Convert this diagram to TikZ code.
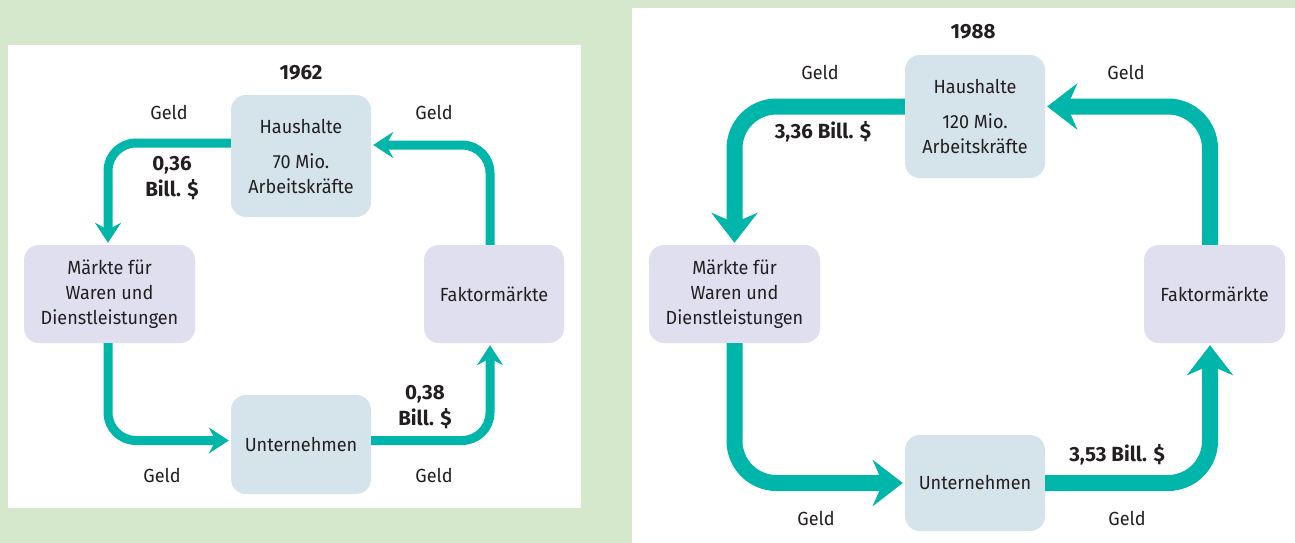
\documentclass[tikz,border=0pt]{standalone}
\usepackage{fontspec}
\setmainfont{Fira Sans}[FakeStretch=0.95]
\newfontfamily\boldfam{Fira Sans}[FakeStretch=1.0]
\usetikzlibrary{arrows.meta,calc}
\definecolor{bggreen}{HTML}{D5E8CB}
\definecolor{boxblue}{HTML}{D5E3EB}
\definecolor{boxlav}{HTML}{DFDFF0}
\definecolor{flowteal}{HTML}{00B5A9}
\definecolor{txt}{HTML}{231F20}
\tikzset{
  base/.style={text=txt, font=\fontsize{19}{25}\selectfont, inner sep=0pt, align=center},
  lbl/.style={base},
  boldlbl/.style={base, font=\boldfam\fontsize{20.5}{26.5}\selectfont\bfseries},
  hbox/.style={base, fill=boxblue, rounded corners=15pt},
  mbox/.style={base, fill=boxlav, rounded corners=15pt},
  flowL/.style={draw=flowteal, line width=9pt, rounded corners=28pt,
    -{Stealth[length=20pt,width=26pt,inset=7pt]}, shorten >=2pt},
  flowR/.style={draw=flowteal, line width=16pt, rounded corners=42pt,
    -{Stealth[length=30pt,width=46pt,inset=10pt]}, shorten >=2pt},
}
\begin{document}
\begin{tikzpicture}[x=1pt,y=-1pt]
\useasboundingbox (0,0) rectangle (1295,543);
\fill[bggreen] (0,0) rectangle (1295,543);
\fill[white] (8,45) rectangle (581,508);
\fill[white] (632,8) rectangle (1295,543);

% ---------- 1962 ----------
\node[boldlbl] (y1) at (301,73) {1962};
\node[hbox, minimum width=140pt, minimum height=122pt] (h1) at (301,156)
  {Haushalte\\[10pt]70 Mio.\\Arbeitskräfte};
\node[mbox, minimum width=171pt, minimum height=98pt] (m1) at (109.5,294)
  {Märkte für\\Waren und\\Dienstleistungen};
\node[mbox, minimum width=140pt, minimum height=98pt] (f1) at (494,294)
  {Faktormärkte};
\node[hbox, minimum width=140pt, minimum height=99pt] (u1) at (301,444.5)
  {Unternehmen};

\draw[flowL] ([yshift=13pt]h1.west) -| ([xshift=-1.5pt]m1.north);
\draw[flowL] ([xshift=-1.5pt]m1.south) |- ([yshift=4pt]u1.west);
\draw[flowL] ([yshift=4pt]u1.east) -| ([xshift=-4pt]f1.south);
\draw[flowL] ([xshift=-4pt]f1.north) |- ([yshift=11pt]h1.east);

\node[lbl] (g1a) at (169,112) {Geld};
\node[lbl] (g1b) at (434,112) {Geld};
\node[lbl] (g1c) at (162,475) {Geld};
\node[lbl] (g1d) at (434,475) {Geld};
\node[boldlbl] (v1a) at (172,178) {0,36\\Bill. \$};
\node[boldlbl] (v1b) at (425,407) {0,38\\Bill. \$};

% ---------- 1988 ----------
\node[boldlbl] (y2) at (973,32) {1988};
\node[hbox, minimum width=140pt, minimum height=123pt] (h2) at (975,116.5)
  {Haushalte\\[10pt]120 Mio.\\Arbeitskräfte};
\node[mbox, minimum width=171pt, minimum height=98pt] (m2) at (734.5,294)
  {Märkte für\\Waren und\\Dienstleistungen};
\node[mbox, minimum width=141pt, minimum height=98pt] (f2) at (1214.5,294)
  {Faktormärkte};
\node[hbox, minimum width=140pt, minimum height=96pt] (u2) at (975,483)
  {Unternehmen};

\draw[flowR] ([yshift=10pt]h2.west) -| (m2.north);
\draw[flowR] (m2.south) |- (u2.west);
\draw[flowR] (u2.east) -| ([xshift=-4.5pt]f2.south);
\draw[flowR] ([xshift=-4.5pt]f2.north) |- ([yshift=10pt]h2.east);

\node[lbl] (g2a) at (820,72) {Geld};
\node[lbl] (g2b) at (1126,72) {Geld};
\node[lbl] (g2c) at (816,518) {Geld};
\node[lbl] (g2d) at (1127,518) {Geld};
\node[boldlbl] (v2a) at (823,132) {3,36 Bill. \$};
\node[boldlbl] (v2b) at (1117,455) {3,53 Bill. \$};
\end{tikzpicture}
\end{document}
